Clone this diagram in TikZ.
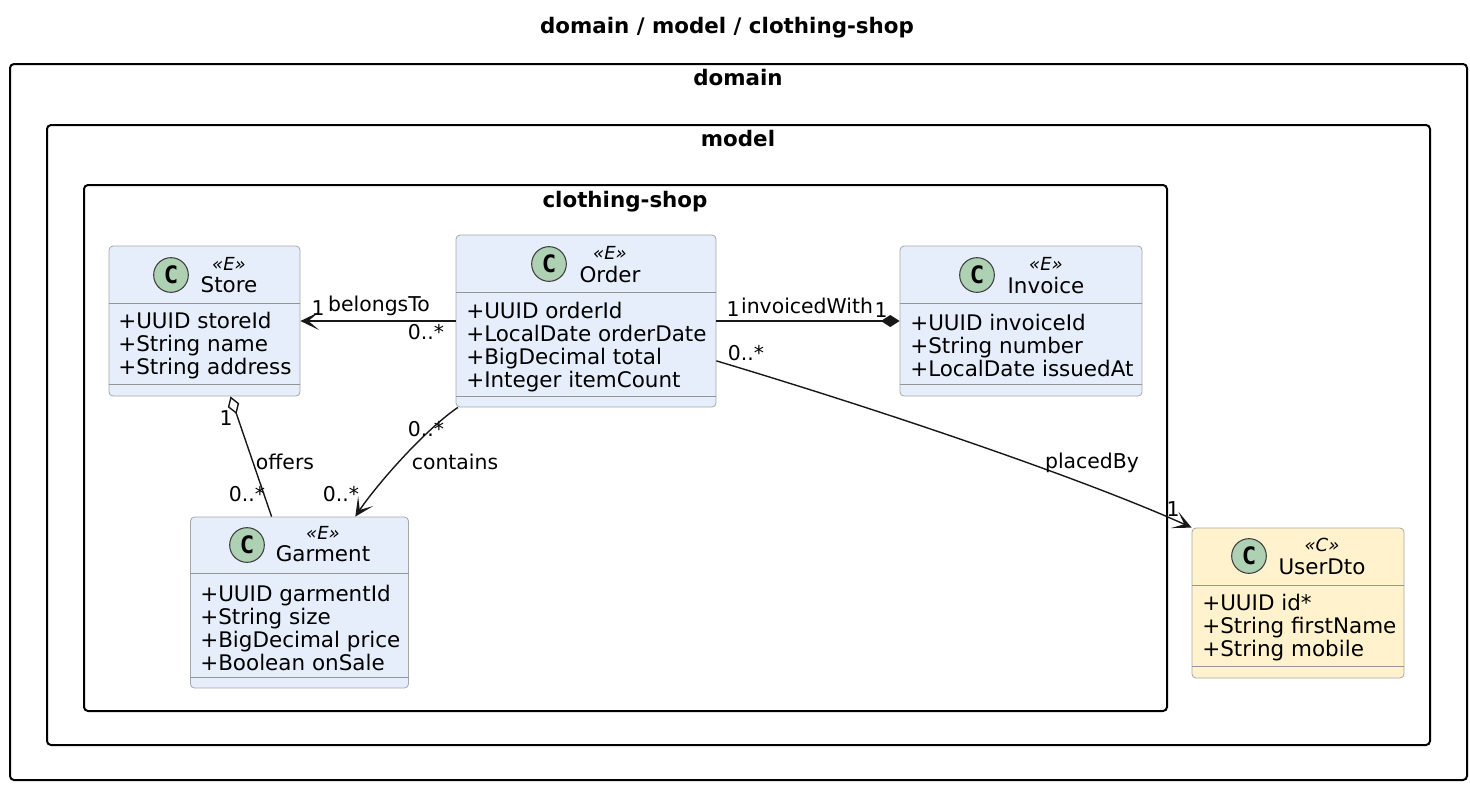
\documentclass[tikz,border=0pt]{standalone}
\usepackage{fontspec}
\setmainfont{DejaVu Sans}
\newfontfamily\spotfont{DejaVu Sans Mono}
\usetikzlibrary{arrows.meta}
\definecolor{entityfill}{HTML}{E6EEFB}
\definecolor{dtofill}{HTML}{FFF2CC}
\definecolor{spotfill}{HTML}{ADD1B2}
\definecolor{boxline}{HTML}{A6A6A6}
\definecolor{linkline}{HTML}{181818}
\tikzset{
  frame/.style={draw=black, line width=1.5pt, rounded corners=3pt},
  framelabel/.style={font=\fontsize{16.05}{18}\selectfont\bfseries, inner sep=0pt},
  classbox/.style={draw=boxline, line width=0.6pt, rounded corners=3pt, inner sep=0pt},
  sepline/.style={draw=boxline!90!black, line width=0.6pt},
  spot/.style={circle, draw=black!75, fill=spotfill, line width=0.8pt, minimum size=26pt, inner sep=0pt,
    font=\fontsize{18}{18}\spotfont\bfseries},
  stereo/.style={font=\fontsize{13.5}{16}\selectfont\itshape, inner sep=0pt},
  classname/.style={font=\fontsize{16.1}{18}\selectfont, inner sep=0pt},
  members/.style={font=\fontsize{16.1}{17.25}\selectfont, align=left, inner sep=0pt, anchor=west},
  linklabel/.style={font=\fontsize{15.3}{18}\selectfont, inner sep=0pt},
  link/.style={draw=linkline, line width=1.05pt},
  openarrow/.style={-{Stealth[length=14pt, width=13.5pt, inset=8pt]}},
}
\begin{document}
\begin{tikzpicture}[x=0.75pt, y=-0.75pt]
    \useasboundingbox (0,0) rectangle (1470,786);

    % --- title and packages ---
    \node[framelabel] (title) at (727,27.5) {domain / model / clothing-shop};
    \draw[frame] (10,64) rectangle (1467,780);
    \node[framelabel] (domainLabel) at (738,78) {domain};
    \draw[frame] (47,125) rectangle (1430,745);
    \node[framelabel] (modelLabel) at (738,139) {model};
    \draw[frame] (84,185) rectangle (1167,711);
    \node[framelabel] (shopLabel) at (625,201.5) {clothing-shop};

    % --- Store ---
    \node[classbox, fill=entityfill, minimum width=143.25pt, minimum height=112.5pt] (store) at (204.5,321) {};
    \draw[sepline] (store.west |- 0,303) -- (store.east |- 0,303);
    \draw[sepline] (store.west |- 0,384) -- (store.east |- 0,384);
    \node[spot] (storeSpot) at (171,275) {C};
    \node[stereo] (storeStereo) at (229,264) {«E»};
    \node[classname] (storeName) at (229,285) {Store};
    \node[members] (storeMembers) at (118,345.5) {+UUID storeId\\+String name\\+String address};

    % --- Order ---
    \node[classbox, fill=entityfill, minimum width=195pt, minimum height=129pt] (order) at (586,321) {};
    \draw[sepline] (order.west |- 0,292) -- (order.east |- 0,292);
    \draw[sepline] (order.west |- 0,396) -- (order.east |- 0,396);
    \node[spot] (orderSpot) at (549,264) {C};
    \node[stereo] (orderStereo) at (610,253) {«E»};
    \node[classname] (orderName) at (610,274) {Order};
    \node[members] (orderMembers) at (466,347) {+UUID orderId\\+LocalDate orderDate\\+BigDecimal total\\+Integer itemCount};

    % --- Invoice ---
    \node[classbox, fill=entityfill, minimum width=181.5pt, minimum height=112.5pt] (invoice) at (1021,321) {};
    \draw[sepline] (invoice.west |- 0,303) -- (invoice.east |- 0,303);
    \draw[sepline] (invoice.west |- 0,384) -- (invoice.east |- 0,384);
    \node[spot] (invoiceSpot) at (977,275) {C};
    \node[stereo] (invoiceStereo) at (1046,264) {«E»};
    \node[classname] (invoiceName) at (1046,285) {Invoice};
    \node[members] (invoiceMembers) at (910,345.5) {+UUID invoiceId\\+String number\\+LocalDate issuedAt};

    % --- Garment ---
    \node[classbox, fill=entityfill, minimum width=163.5pt, minimum height=128.25pt] (garment) at (299.5,602.5) {};
    \draw[sepline] (garment.west |- 0,573) -- (garment.east |- 0,573);
    \draw[sepline] (garment.west |- 0,677) -- (garment.east |- 0,677);
    \node[spot] (garmentSpot) at (247,545) {C};
    \node[stereo] (garmentStereo) at (323,533) {«E»};
    \node[classname] (garmentName) at (323,554) {Garment};
    \node[members] (garmentMembers) at (200,627.5) {+UUID garmentId\\+String size\\+BigDecimal price\\+Boolean onSale};

    % --- UserDto ---
    \node[classbox, fill=dtofill, minimum width=159pt, minimum height=112.5pt] (userDto) at (1298,603) {};
    \draw[sepline] (userDto.west |- 0,585) -- (userDto.east |- 0,585);
    \draw[sepline] (userDto.west |- 0,666) -- (userDto.east |- 0,666);
    \node[spot] (userSpot) at (1249,556) {C};
    \node[stereo] (userStereo) at (1322,545) {«C»};
    \node[classname] (userName) at (1322,567) {UserDto};
    \node[members] (userMembers) at (1202,627.5) {+UUID id*\\+String firstName\\+String mobile};

    % --- connectors ---
    \draw[link, openarrow] (order.west) -- (store.east);
    \draw[link, {Diamond[length=14pt, width=9pt, open]}-] (store.-71) -- (garment.108.4);
    \draw[link, -{Diamond[length=14pt, width=9pt]}] (order.east) -- (invoice.west);
    \draw[link, openarrow] (order.214.1) .. controls +(-35,24) and +(20,-30) .. (garment.57.5);
    \draw[link, openarrow] (order.-17.1) .. controls +(200,60) and +(-90,-41) .. (userDto.north west);

    % --- connector labels ---
    \node[linklabel] (belongsLabel) at (379,306) {belongsTo};
    \node[linklabel] (belongsEnd) at (318,308) {1};
    \node[linklabel] (belongsStart) at (426,332) {0..*};
    \node[linklabel] (invoicedLabel) at (807,306) {invoicedWith};
    \node[linklabel] (invoicedStart) at (733,309) {1};
    \node[linklabel] (invoicedEnd) at (881,310) {1};
    \node[linklabel] (placedLabel) at (1092,463) {placedBy};
    \node[linklabel] (placedStart) at (746,353) {0..*};
    \node[linklabel] (placedEnd) at (1173,509) {1};
    \node[linklabel] (offersLabel) at (285,462) {offers};
    \node[linklabel] (offersStart) at (226,418) {1};
    \node[linklabel] (offersEnd) at (247,494) {0..*};
    \node[linklabel] (containsLabel) at (455,462) {contains};
    \node[linklabel] (containsStart) at (426,429) {0..*};
    \node[linklabel] (containsEnd) at (341,494) {0..*};
\end{tikzpicture}
\end{document}
